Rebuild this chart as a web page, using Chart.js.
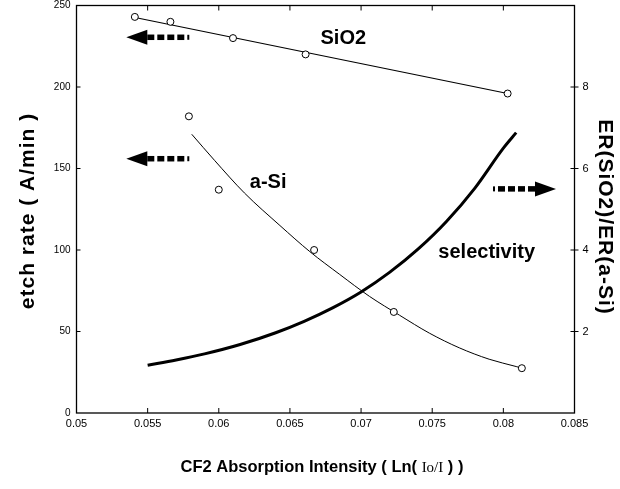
<!DOCTYPE html>
<html>
<head>
<meta charset="utf-8">
<script src="https://cdn.jsdelivr.net/npm/chart.js@4"></script>
<style>
  html, body { margin: 0; padding: 0; background: #fff; }
  #wrap { width: 620px; height: 489px; }
</style>
</head>
<body>
<div id="wrap"><canvas id="chart" width="620" height="489"></canvas></div>
<script>
// axis ticks
const xTicks = [0.05, 0.055, 0.06, 0.065, 0.07, 0.075, 0.08, 0.085];
const yTicks = [0, 50, 100, 150, 200, 250];
const y2Ticks = [2, 4, 6, 8];

// SiO2 etch rate (left axis)
const sio2X = [0.0541, 0.0566, 0.0610, 0.0661, 0.0803];
const sio2Y = [243, 240, 230, 220, 196];
const sio2FitX = [0.0542, 0.0803];
const sio2FitY = [242.5, 196];

// a-Si etch rate (left axis)
const asiX = [0.0579, 0.0600, 0.0667, 0.0723, 0.0813];
const asiY = [182, 137, 100, 62, 27.5];
const asiFitX = [0.0581, 0.0597, 0.0618, 0.0643, 0.0664, 0.0685, 0.0706, 0.0727, 0.0748, 0.0769, 0.0790, 0.0809, 0.0813];
const asiFitY = [171, 155, 135, 115, 99, 85, 71.5, 60, 49, 40, 33, 28.5, 27.5];

// selectivity ER(SiO2)/ER(a-Si) (right axis)
const selX = [0.0550, 0.0570, 0.0590, 0.0615, 0.0640, 0.0660, 0.0680, 0.0700, 0.0720, 0.0740, 0.0760, 0.0780, 0.0800, 0.0809];
const selY = [1.17, 1.30, 1.45, 1.68, 1.97, 2.25, 2.58, 2.97, 3.45, 4.02, 4.70, 5.52, 6.50, 6.88];

// annotations (data coordinates)
const labels = [
  { text: "SiO2", x: 0.06875, y: 230, axis: "y" },
  { text: "a-Si", x: 0.06347, y: 141.5, axis: "y" },
  { text: "selectivity", x: 0.07883, y: 98.7, axis: "y" }
];
const arrows = [
  { from: 0.0582, to: 0.0535, y: 230.5, axis: "y" },
  { from: 0.0582, to: 0.0535, y: 156, axis: "y" },
  { from: 0.0792, to: 0.0837, y: 5.5, axis: "y2" }
];

const toPts = (xs, ys) => xs.map((x, i) => ({ x: x, y: ys[i] }));
const FONT = "'Liberation Sans', Arial, Helvetica, sans-serif";

const markers = {
  type: "scatter", showLine: false,
  pointRadius: 3.5, pointBorderWidth: 1,
  pointBorderColor: "#000", pointBackgroundColor: "#fff"
};

// keep the plot box where the reference has it
const noPad = s => { s.paddingTop = 0; s.paddingBottom = 0; s.paddingLeft = 0; s.paddingRight = 0; };

// frame, inward ticks, text labels, arrows, axis titles
const overlay = {
  id: "overlay",
  afterDraw(chart) {
    const { ctx, chartArea: a, scales } = chart;
    ctx.save();
    ctx.strokeStyle = "#000";
    ctx.fillStyle = "#000";
    ctx.lineWidth = 1.3;
    ctx.strokeRect(a.left, a.top, a.right - a.left, a.bottom - a.top);

    ctx.lineWidth = 1;
    ctx.beginPath();
    xTicks.slice(1, -1).forEach(v => {
      const px = scales.x.getPixelForValue(v);
      ctx.moveTo(px, a.bottom); ctx.lineTo(px, a.bottom - 5);
      ctx.moveTo(px, a.top); ctx.lineTo(px, a.top + 5);
    });
    yTicks.slice(1, -1).forEach(v => {
      const py = scales.y.getPixelForValue(v);
      ctx.moveTo(a.left, py); ctx.lineTo(a.left + 4, py);
    });
    y2Ticks.forEach(v => {
      const py = scales.y2.getPixelForValue(v);
      ctx.moveTo(a.right - 4, py); ctx.lineTo(a.right + 4, py);
    });
    ctx.stroke();

    // series labels
    ctx.font = "bold 20px " + FONT;
    ctx.textAlign = "center";
    ctx.textBaseline = "middle";
    labels.forEach(l => {
      ctx.fillText(l.text, scales.x.getPixelForValue(l.x), scales[l.axis].getPixelForValue(l.y));
    });

    // dashed arrows
    arrows.forEach(ar => {
      const x0 = scales.x.getPixelForValue(ar.from);
      const x1 = scales.x.getPixelForValue(ar.to);
      const py = scales[ar.axis].getPixelForValue(ar.y);
      const dir = x1 > x0 ? 1 : -1;
      const headLen = 21, headH = 15;
      const base = x1 - dir * headLen;
      ctx.beginPath();
      ctx.moveTo(x1, py);
      ctx.lineTo(base, py - headH / 2);
      ctx.lineTo(base, py + headH / 2);
      ctx.closePath();
      ctx.fill();
      let pos = base;
      const dashes = [7, 7, 7, 7, 2];
      dashes.forEach((w, i) => {
        const h = i === dashes.length - 1 ? 5 : 5.5;
        ctx.fillRect(Math.min(pos, pos - dir * w), py - h / 2, w, h);
        pos -= dir * (w + 3);
      });
    });

    // axis titles
    ctx.font = "bold 21px " + FONT;
    ctx.letterSpacing = "1px";
    ctx.save();
    ctx.translate(28, 211);
    ctx.rotate(-Math.PI / 2);
    ctx.fillText("etch rate ( A/min )", 0, 0);
    ctx.restore();

    ctx.save();
    ctx.translate(605, 217);
    ctx.rotate(Math.PI / 2);
    ctx.fillText("ER(SiO2)/ER(a-Si)", 0, 0);
    ctx.restore();
    ctx.letterSpacing = "0px";

    // bottom title with serif "Io/I"
    const partA = "CF2 Absorption Intensity ( Ln( ";
    const partB = "Io/I";
    const partC = " ) )";
    const fA = "bold 16.5px " + FONT;
    const fB = "15px 'Liberation Serif', 'DejaVu Serif', serif";
    ctx.font = fA; const wA = ctx.measureText(partA).width; const wC = ctx.measureText(partC).width;
    ctx.font = fB; const wB = ctx.measureText(partB).width;
    let tx = 322 - (wA + wB + wC) / 2;
    const ty = 467;
    ctx.textAlign = "left";
    ctx.font = fA; ctx.fillText(partA, tx, ty); tx += wA;
    ctx.font = fB; ctx.fillText(partB, tx, ty + 1); tx += wB;
    ctx.font = fA; ctx.fillText(partC, tx, ty);
    ctx.restore();
  }
};

new Chart(document.getElementById("chart"), {
  type: "scatter",
  data: {
    datasets: [
      Object.assign({ label: "SiO2", data: toPts(sio2X, sio2Y), yAxisID: "y", order: 0 }, markers),
      Object.assign({ label: "a-Si", data: toPts(asiX, asiY), yAxisID: "y", order: 0 }, markers),
      {
        label: "SiO2 fit", data: toPts(sio2FitX, sio2FitY), yAxisID: "y", order: 2,
        showLine: true, pointRadius: 0, borderColor: "#000", borderWidth: 1.2
      },
      {
        label: "a-Si fit", data: toPts(asiFitX, asiFitY), yAxisID: "y", order: 2,
        showLine: true, pointRadius: 0, borderColor: "#000", borderWidth: 1,
        cubicInterpolationMode: "monotone"
      },
      {
        label: "selectivity", data: toPts(selX, selY), yAxisID: "y2", order: 1,
        showLine: true, pointRadius: 0, borderColor: "#000", borderWidth: 3,
        cubicInterpolationMode: "monotone"
      }
    ]
  },
  options: {
    responsive: false,
    animation: false,
    layout: { padding: { top: 5.5, left: 0, right: 0, bottom: 0 } },
    plugins: { legend: { display: false }, tooltip: { enabled: false } },
    scales: {
      x: {
        type: "linear", min: 0.05, max: 0.085,
        afterBuildTicks: s => { s.ticks = xTicks.map(v => ({ value: v })); },
        afterFit: s => { s.height = 76; noPad(s); },
        ticks: {
          callback: v => String(v), padding: 4, color: "#000",
          maxRotation: 0, autoSkip: false, font: { family: FONT, size: 11 }
        },
        grid: { display: false, drawTicks: false },
        border: { display: false }
      },
      y: {
        position: "left", min: 0, max: 250,
        afterBuildTicks: s => { s.ticks = yTicks.map(v => ({ value: v })); },
        afterFit: s => { s.width = 76.5; noPad(s); },
        ticks: { padding: 6, color: "#000", font: { family: FONT, size: 10 } },
        grid: { display: false, drawTicks: false },
        border: { display: false }
      },
      y2: {
        position: "right", min: 0, max: 10,
        afterBuildTicks: s => { s.ticks = y2Ticks.map(v => ({ value: v })); },
        afterFit: s => { s.width = 45.5; noPad(s); },
        ticks: { padding: 8, color: "#000", font: { family: FONT, size: 11 } },
        grid: { display: false, drawTicks: false },
        border: { display: false }
      }
    }
  },
  plugins: [overlay]
});
</script>
</body>
</html>
